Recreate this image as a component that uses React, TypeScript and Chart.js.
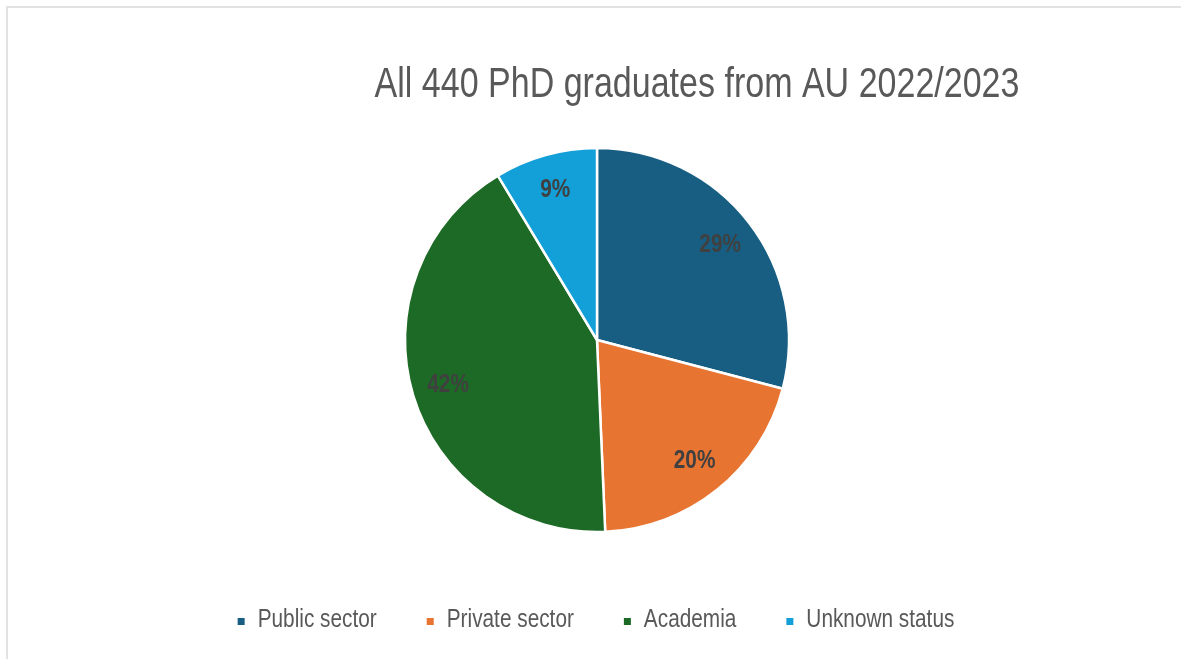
import React, { useEffect, useRef } from "react";
import { Chart, registerables } from "chart.js";

Chart.register(...registerables);

const categories = ["Public sector", "Private sector", "Academia", "Unknown status"];
const graduates = [128, 89, 185, 38];
const colors = ["#175e82", "#e87431", "#1c6a25", "#139fd7"];
const titleText = "All 440 PhD graduates from AU 2022/2023";

const FONT = '"Liberation Sans", Arial, sans-serif';

function condensedText(ctx: CanvasRenderingContext2D, text: string, x: number, y: number, align: CanvasTextAlign, sx: number) {
  ctx.save();
  ctx.translate(x, y);
  ctx.scale(sx, 1);
  ctx.textAlign = align;
  ctx.fillText(text, 0, 0);
  ctx.restore();
}

const pctLabels = {
  id: "pctLabels",
  afterDatasetsDraw(chart: any) {
    const { ctx } = chart;
    const meta = chart.getDatasetMeta(0);
    const data = chart.data.datasets[0].data as number[];
    const total = data.reduce((a, b) => a + b, 0);
    ctx.save();
    ctx.font = `bold 26px ${FONT}`;
    ctx.fillStyle = "#404040";
    ctx.textBaseline = "middle";
    meta.data.forEach((arc: any, i: number) => {
      const p = arc.getProps(["x", "y", "startAngle", "endAngle", "outerRadius"], true);
      const mid = (p.startAngle + p.endAngle) / 2;
      const r = p.outerRadius * 0.81;
      const x = p.x + Math.cos(mid) * r;
      const y = p.y + Math.sin(mid) * r;
      condensedText(ctx, Math.round((data[i] / total) * 100) + "%", x, y, "center", 0.8);
    });
    ctx.restore();
  },
};

const titleAndLegend = {
  id: "titleAndLegend",
  afterDraw(chart: any) {
    const { ctx } = chart;
    ctx.save();
    // title
    ctx.font = `42px ${FONT}`;
    ctx.fillStyle = "#595959";
    ctx.textBaseline = "alphabetic";
    condensedText(ctx, titleText, 697, 97, "center", 0.81);

    // legend
    const sx = 0.8;
    const box = 7;
    const boxGap = 13;
    const itemGap = 50;
    ctx.font = `26px ${FONT}`;
    const widths = categories.map((c) => ctx.measureText(c).width * sx);
    const total = widths.reduce((a, w) => a + box + boxGap + w, 0) + itemGap * (categories.length - 1);
    let x = 596 - total / 2;
    const baseline = 627;
    categories.forEach((c, i) => {
      ctx.fillStyle = colors[i];
      ctx.fillRect(x, 618, box, box);
      ctx.fillStyle = "#595959";
      condensedText(ctx, c, x + box + boxGap, baseline, "left", sx);
      x += box + boxGap + widths[i] + itemGap;
    });
    ctx.restore();
  },
};

export default function App() {
  const ref = useRef<HTMLCanvasElement | null>(null);
  useEffect(() => {
    if (!ref.current) return;
    const chart = new Chart(ref.current, {
      type: "pie",
      data: {
        labels: categories,
        datasets: [
          {
            data: graduates,
            backgroundColor: colors,
            borderColor: "#ffffff",
            borderWidth: 2.5,
          },
        ],
      },
      options: {
        animation: false,
        responsive: false,
        radius: 192,
        layout: { padding: { top: 100, bottom: 79, left: 13, right: 0 } },
        plugins: {
          legend: { display: false },
          tooltip: { enabled: false },
          title: { display: false },
        },
      } as any,
      plugins: [pctLabels, titleAndLegend],
    });
    return () => chart.destroy();
  }, []);

  return (
    <div style={{ position: "fixed", left: 0, top: 0, width: 1181, height: 659, background: "#fff", overflow: "hidden" }}>
      <div
        style={{
          position: "absolute",
          left: 6,
          top: 6,
          right: 0,
          bottom: 0,
          borderTop: "2px solid #e2e2e2",
          borderLeft: "2px solid #e2e2e2",
        }}
      />
      <canvas ref={ref} width={1181} height={659} style={{ position: "absolute", left: 0, top: 0, width: 1181, height: 659 }} />
    </div>
  );
}
